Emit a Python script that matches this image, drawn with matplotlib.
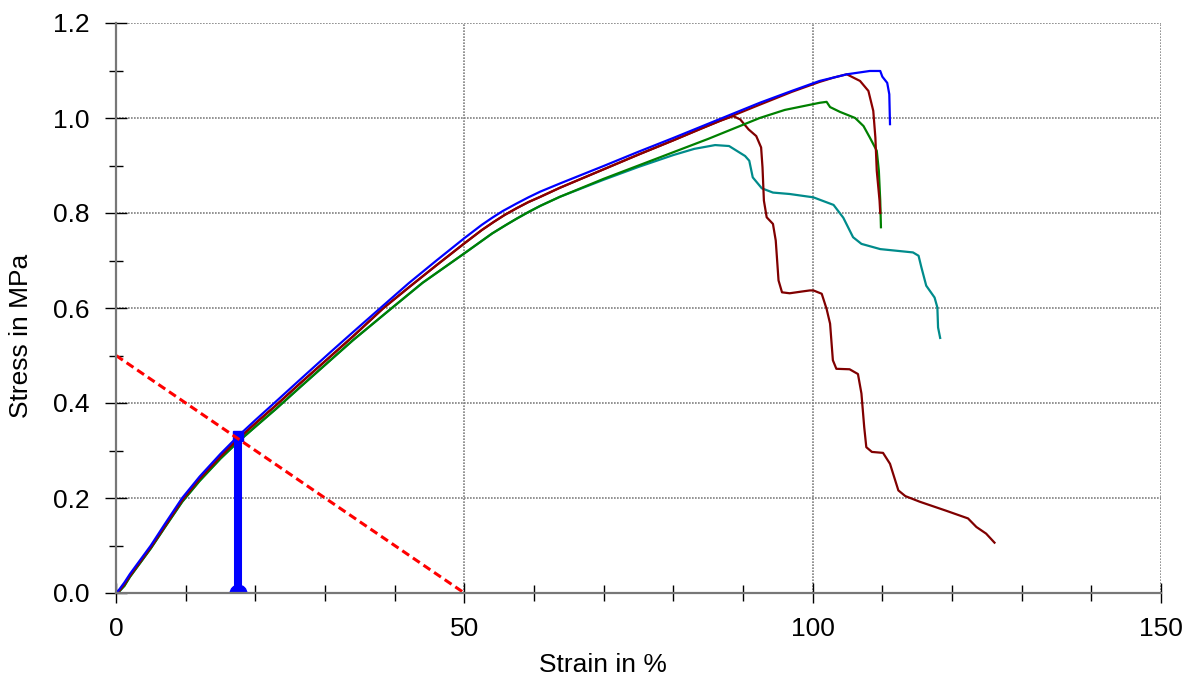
import matplotlib.pyplot as plt
import numpy as np

plt.rcParams['font.family'] = ['Liberation Sans', 'DejaVu Sans']

# stress-strain curves (strain in %, stress in MPa)
blue_x = [0, 0.5, 1.2, 2, 3.5, 5, 7, 9.5, 12, 15, 17.5, 20, 22.8, 26.4, 30.7, 34, 37.8, 42, 46, 50,
          52.5, 54, 55.5, 57.5, 59.2, 60.9, 63.7, 70, 75, 80, 86.7, 92.4, 97, 101, 104.9, 108.2,
          109.7, 110.0, 110.7, 111.0, 111.1]
blue_y = [0, 0.008, 0.022, 0.04, 0.07, 0.10, 0.145, 0.2, 0.245, 0.293, 0.33, 0.364, 0.401, 0.449,
          0.506, 0.549, 0.598, 0.652, 0.70, 0.747, 0.775, 0.790, 0.804, 0.82, 0.833, 0.845, 0.862,
          0.899, 0.929, 0.958, 0.998, 1.032, 1.057, 1.078, 1.092, 1.099, 1.099, 1.087, 1.074, 1.05,
          0.987]

maroon_a_x = [0, 0.5, 1.2, 2, 3.5, 5, 7, 9.5, 12, 15, 17.5, 20, 22.8, 26.4, 30.7, 34, 38.4, 42, 46,
              50, 52.5, 54.2, 55.8, 57.5, 59.2, 60.9, 63.7, 70, 75, 80, 86.7, 92.4, 97, 101, 103,
              104.9, 106.8, 108, 108.7, 109, 109.2, 109.6, 109.7]
maroon_a_y = [0, 0.005, 0.018, 0.036, 0.066, 0.096, 0.14, 0.195, 0.24, 0.287, 0.324, 0.357, 0.393,
              0.441, 0.497, 0.54, 0.6, 0.643, 0.69, 0.736, 0.764, 0.781, 0.796, 0.81, 0.823, 0.834,
              0.853, 0.892, 0.923, 0.953, 0.994, 1.028, 1.055, 1.076, 1.085, 1.092, 1.078, 1.057,
              1.015, 0.959, 0.889, 0.826, 0.80]

maroon_b_x = [0, 0.5, 1.2, 2, 3.5, 5, 7, 9.5, 12, 15, 17.5, 20, 22.8, 26.4, 30.7, 34, 38.4, 42, 46,
              50, 52.5, 54.2, 55.8, 57.5, 59.2, 60.9, 63.7, 70, 75, 80, 84, 86.7, 88.6, 89.6, 90.8,
              91.9, 92.6, 92.8, 93.0, 93.4, 94.3, 94.7, 95.1, 95.6, 96.7, 98.6, 99.6, 100.1, 101.3,
              102.0, 102.5, 102.9, 103.4, 105.3, 106.5, 107.0, 107.4, 107.7, 108.5, 110.1, 111.1,
              111.7, 112.3, 113.3, 115.4, 119.2, 122.3, 123.5, 124.9, 126.1]
maroon_b_y = [0, 0.005, 0.018, 0.036, 0.066, 0.096, 0.14, 0.195, 0.24, 0.287, 0.324, 0.357, 0.393,
              0.441, 0.497, 0.54, 0.6, 0.643, 0.69, 0.736, 0.764, 0.781, 0.796, 0.81, 0.823, 0.834,
              0.853, 0.892, 0.923, 0.953, 0.978, 0.994, 1.004, 0.997, 0.976, 0.962, 0.938, 0.896,
              0.826, 0.791, 0.777, 0.742, 0.658, 0.633, 0.631, 0.635, 0.637, 0.637, 0.63, 0.598,
              0.567, 0.49, 0.472, 0.471, 0.461, 0.42, 0.349, 0.307, 0.297, 0.295, 0.272, 0.244,
              0.216, 0.204, 0.192, 0.173, 0.157, 0.139, 0.125, 0.106]

green_x = [0, 0.5, 1.2, 2, 3.5, 5, 7, 9.5, 12, 15, 17.5, 20, 23, 26.4, 30, 34, 39.6, 44, 50, 54,
           56, 57.5, 59.2, 60.9, 63.7, 70, 75, 80, 85, 92.4, 96, 101, 102, 102.5, 103.9, 106.1,
           107.3, 108.2, 109.2, 109.5, 109.7, 109.8]
green_y = [0, 0.004, 0.015, 0.034, 0.064, 0.094, 0.138, 0.192, 0.236, 0.283, 0.318, 0.35, 0.388,
           0.433, 0.48, 0.532, 0.60, 0.653, 0.715, 0.757, 0.775, 0.788, 0.802, 0.815, 0.834, 0.872,
           0.90, 0.928, 0.956, 1.0, 1.017, 1.032, 1.034, 1.023, 1.013, 1.0, 0.983, 0.959, 0.931,
           0.889, 0.826, 0.77]

teal_x = [0, 0.5, 1.2, 2, 3.5, 5, 7, 9.5, 12, 15, 17.5, 20, 23, 26.4, 30, 34, 39.6, 44, 50, 54,
          56, 57.5, 59.2, 60.9, 63.7, 70, 75, 80, 83, 86, 88, 90.3, 90.9, 91.4, 92.7, 94.3, 96.7,
          99.6, 100.1, 103, 104.4, 105.8, 107, 109.7, 114.4, 115.2, 115.6, 116.3, 117.5, 117.9,
          118.0, 118.3]
teal_y = [0, 0.004, 0.015, 0.034, 0.064, 0.094, 0.138, 0.192, 0.236, 0.283, 0.318, 0.35, 0.388,
          0.433, 0.48, 0.532, 0.60, 0.653, 0.715, 0.757, 0.775, 0.788, 0.802, 0.815, 0.834, 0.87,
          0.897, 0.922, 0.935, 0.943, 0.941, 0.92, 0.91, 0.875, 0.852, 0.843, 0.84, 0.834, 0.833,
          0.817, 0.79, 0.749, 0.735, 0.724, 0.717, 0.71, 0.686, 0.647, 0.622, 0.601, 0.559, 0.537]

# dashed construction line and the marked point
red_x = [0, 50]
red_y = [0.5, 0]
mark_x = 17.5
mark_y = 0.33

fig = plt.figure(figsize=(11.94, 6.81), dpi=100)
ax = fig.add_axes([116 / 1194, 1 - 593 / 681, 1045 / 1194, 570 / 681])

ax.plot(teal_x, teal_y, color='#008B8B', lw=1.6)
ax.plot(maroon_b_x, maroon_b_y, color='#800000', lw=1.6)
ax.plot(green_x, green_y, color='#008000', lw=1.6)
ax.plot(maroon_a_x, maroon_a_y, color='#8B0000', lw=1.6)
ax.plot(blue_x, blue_y, color='#0000FF', lw=1.6)

ax.plot([mark_x, mark_x], [0, mark_y], color='#0000FF', lw=5.8, solid_capstyle='butt')
ax.plot([mark_x], [0], marker='o', ms=12, color='#0000FF')
ax.plot([mark_x], [mark_y], marker='s', ms=7, color='#0000FF')
ax.plot(red_x, red_y, color='#FF0000', lw=2.2, linestyle=(0, (2.7, 1.5)), clip_on=False)

ax.set_xlim(0, 150)
ax.set_ylim(0, 1.2)
ax.set_xticks([0, 50, 100, 150])
ax.set_xticks(np.arange(0, 151, 10), minor=True)
ax.set_yticks(np.arange(0, 1.21, 0.2))
ax.set_yticks(np.arange(0, 1.21, 0.1), minor=True)
ax.set_yticklabels(['%.1f' % v for v in np.arange(0, 1.21, 0.2)])

ax.grid(True, which='major', color='#808080', linestyle=(0, (1, 0.8)), lw=1.2)
ax.spines['top'].set_visible(False)
ax.spines['right'].set_visible(False)
for s in ('left', 'bottom'):
    ax.spines[s].set_color('#777777')
    ax.spines[s].set_linewidth(1.6)

ax.tick_params(axis='both', which='both', direction='inout', colors='black', labelsize=19)
ax.tick_params(axis='x', which='major', length=15, width=1, pad=10)
ax.tick_params(axis='x', which='minor', length=11, width=1)
ax.tick_params(axis='y', which='major', length=16.5, width=1, pad=11)
ax.tick_params(axis='y', which='minor', length=10, width=1)

ax.set_xlabel('Strain in %', fontsize=19)
ax.set_ylabel('Stress in MPa', fontsize=19)
ax.xaxis.set_label_coords(0.466, -0.106)
ax.yaxis.set_label_coords(-0.079, 0.451)

fig.savefig('out.png', dpi=100)
